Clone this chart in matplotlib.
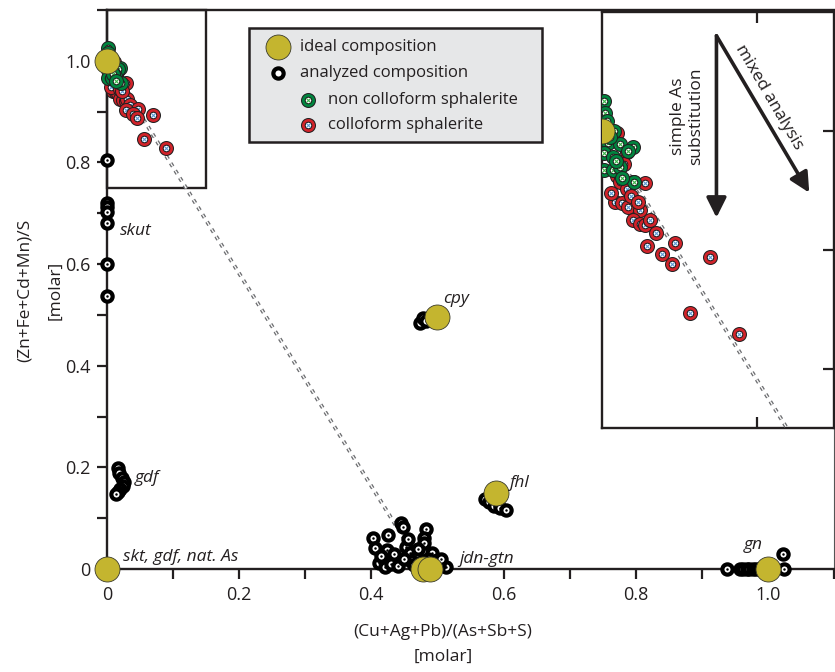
import matplotlib
matplotlib.use("Agg")
import matplotlib.pyplot as plt
from matplotlib.patches import Rectangle
from matplotlib.ticker import MultipleLocator

plt.rcParams['font.family'] = ['Open Sans', 'DejaVu Sans']
plt.rcParams['lines.scale_dashes'] = False
INK = '#231F20'
YEL = '#C4B52F'
GRN = '#00853F'
RED = '#D2232A'

# ---------------- data ----------------
ideal_x = [0.0, 0.0, 0.5, 0.589, 0.478, 0.489, 1.0]
ideal_y = [1.0, 0.0, 0.496, 0.15, 0.0, 0.0, 0.0]

skut_x = [0, 0, 0, 0, 0, 0, 0]
skut_y = [0.805, 0.72, 0.712, 0.703, 0.68, 0.60, 0.537]

gdf_x = [0.016, 0.018, 0.022, 0.025, 0.024, 0.020, 0.016, 0.014]
gdf_y = [0.198, 0.188, 0.180, 0.172, 0.163, 0.157, 0.152, 0.147]

cpy_x = [0.474, 0.478, 0.482]
cpy_y = [0.485, 0.493, 0.488]

fhl_x = [0.572, 0.578, 0.586, 0.595, 0.604]
fhl_y = [0.138, 0.132, 0.124, 0.120, 0.117]

jdn_x = [0.402, 0.405, 0.425, 0.423, 0.445, 0.448, 0.483, 0.480, 0.480, 0.412,
         0.420, 0.438, 0.453, 0.458, 0.468, 0.492, 0.500, 0.513, 0.503, 0.430,
         0.440, 0.460, 0.470, 0.475, 0.485, 0.490, 0.415, 0.435, 0.450, 0.465,
         0.478, 0.495, 0.505, 0.455, 0.470]
jdn_y = [0.061, 0.041, 0.067, 0.037, 0.090, 0.083, 0.078, 0.061, 0.052, 0.012,
         0.004, 0.018, 0.043, 0.031, 0.024, 0.031, 0.018, 0.004, 0.008, 0.010,
         0.005, 0.015, 0.010, 0.005, 0.020, 0.012, 0.025, 0.030, 0.020, 0.008,
         0.015, 0.005, 0.020, 0.060, 0.040]

gn_x = [0.938, 0.958, 0.963, 0.968, 0.972, 0.977, 0.982, 0.987, 1.025, 1.023]
gn_y = [0.0, 0.0, 0.0, 0.0, 0.0, 0.0, 0.0, 0.0, 0.0, 0.030]

red_x = [0.010, 0.016, 0.014, 0.0097, 0.0116, 0.020, 0.028, 0.016, 0.0084, 0.013,
         0.017, 0.0245, 0.020, 0.0245, 0.028, 0.031, 0.035, 0.047, 0.029, 0.0386,
         0.045, 0.0696, 0.0567, 0.0889, 0.006, 0.019, 0.023]
red_y = [0.998, 0.982, 0.972, 0.962, 0.957, 0.957, 0.956, 0.951, 0.940, 0.939,
         0.936, 0.933, 0.925, 0.922, 0.921, 0.925, 0.914, 0.906, 0.903, 0.896,
         0.888, 0.894, 0.847, 0.829, 0.948, 0.945, 0.940]

green_x = [0.001, 0.002, 0.003, 0.0075, 0.004, 0.0116, 0.020, 0.017, 0.001, 0.007,
           0.001, 0.007, 0.0116, 0.021, 0.005, 0.009, 0.013]
green_y = [1.025, 1.015, 1.008, 1.000, 0.990, 0.989, 0.986, 0.983, 0.981, 0.978,
           0.967, 0.967, 0.970, 0.957, 0.995, 0.975, 0.960]

labels = ['skut', 'gdf', 'skt, gdf, nat. As', 'cpy', 'fhl', 'jdn-gtn', 'gn']
label_x = [0.0196, 0.042, 0.024, 0.508, 0.609, 0.533, 0.964]
label_y = [0.657, 0.171, 0.0165, 0.524, 0.162, 0.0125, 0.039]

# ---------------- helpers ----------------
BMS, BMEW = 7.4, 3.0
CMS, CMEW, CMEW2 = 7.4, 3.4, 1.9
YMS = 18

def black_rings(ax, xs, ys, z=5):
    for i, (x, y) in enumerate(zip(xs, ys)):
        ax.plot([x], [y], 'o', ms=BMS, mfc='white', mec='black', mew=BMEW,
                ls='none', clip_on=False, zorder=z + i * 0.001)
        ax.plot([x], [y], '.', ms=1.6, color='black', ls='none',
                clip_on=False, zorder=z + i * 0.001 + 0.0005)

def color_rings(ax, xs, ys, col, ccol, z=6):
    for i, (x, y) in enumerate(zip(xs, ys)):
        zz = z + i * 0.001
        ax.plot([x], [y], 'o', ms=CMS, mfc='white', mec=INK, mew=CMEW,
                ls='none', clip_on=False, zorder=zz)
        ax.plot([x], [y], 'o', ms=CMS, mfc='none', mec=col, mew=CMEW2,
                ls='none', clip_on=False, zorder=zz + 0.0002)
        ax.plot([x], [y], 'x', ms=2.4, mew=0.8, color=ccol, ls='none',
                clip_on=False, zorder=zz + 0.0004)

def ideal(ax, xs, ys, z=8):
    ax.plot(xs, ys, 'o', ms=YMS, mfc=YEL, mec='#3a3a2a', mew=0.6, ls='none',
            clip_on=False, zorder=z)

def mixline(ax):
    xs = [ideal_x[0], ideal_x[4]]
    ys = [ideal_y[0], ideal_y[4]]
    ax.plot(xs, ys, color='#6D6E71', lw=2.8, ls=(0, (2.8, 3.4)), zorder=4,
            dash_capstyle='butt')
    ax.plot(xs, ys, color='white', lw=0.9, ls=(0, (2.8, 3.4)), zorder=4.1,
            dash_capstyle='butt')

# ---------------- figure ----------------
fig = plt.figure(figsize=(8.35, 6.72), dpi=100)
W, H = 835, 672
ax = fig.add_axes([107 / W, 1 - 569 / H, (834 - 107) / W, (569 - 10) / H])
ax.set_xlim(0, 1.1)
ax.set_ylim(0, 1.1)

for s in ['left', 'bottom', 'top']:
    ax.spines[s].set_linewidth(1.7)
    ax.spines[s].set_color(INK)
ax.spines['right'].set_linewidth(0.8)
ax.spines['right'].set_color('#555555')

ax.set_xticks([0, 0.2, 0.4, 0.6, 0.8, 1.0])
ax.set_xticklabels(['0', '0.2', '0.4', '0.6', '0.8', '1.0'])
ax.set_yticks([0, 0.2, 0.4, 0.6, 0.8, 1.0])
ax.set_yticklabels(['0', '0.2', '0.4', '0.6', '0.8', '1.0'])
ax.xaxis.set_minor_locator(MultipleLocator(0.1))
ax.yaxis.set_minor_locator(MultipleLocator(0.1))
ax.tick_params(which='both', direction='out', length=7, width=1.6, color=INK,
               labelsize=13, labelcolor=INK, pad=5, top=False, right=False)

mixline(ax)
black_rings(ax, skut_x, skut_y)
black_rings(ax, gdf_x, gdf_y)
black_rings(ax, cpy_x, cpy_y)
black_rings(ax, fhl_x, fhl_y)
black_rings(ax, jdn_x, jdn_y)
black_rings(ax, gn_x, gn_y)
color_rings(ax, red_x, red_y, RED, '#5B9BD5')
color_rings(ax, green_x, green_y, GRN, '#39B54A', z=6.5)
ideal(ax, ideal_x, ideal_y)

for t, x, y in zip(labels, label_x, label_y):
    ax.text(x, y, t, style='italic', fontsize=12.5, color=INK, ha='left',
            va='baseline', zorder=10)

# zoom box
ax.add_patch(Rectangle((0, 0.75), 0.15, 0.35, fill=False, ec=INK, lw=1.7,
                       zorder=3, clip_on=False))

# axis labels
fig.text(25 / W, 1 - 290 / H, '(Zn+Fe+Cd+Mn)/S', rotation=90, ha='center',
         va='center', fontsize=12.5, color=INK)
fig.text(55 / W, 1 - 290 / H, '[molar]', rotation=90, ha='center',
         va='center', fontsize=12.5, color=INK)
fig.text(443 / W, 1 - 632 / H, '(Cu+Ag+Pb)/(As+Sb+S)', ha='center',
         va='center', fontsize=12.5, color=INK)
fig.text(443 / W, 1 - 657 / H, '[molar]', ha='center', va='center',
         fontsize=12.5, color=INK)

# legend (manual, axes fraction)
lg = ax.transAxes
ax.add_patch(Rectangle((0.196, 0.764), 0.403, 0.204, transform=lg,
                       fc='#E6E7E8', ec=INK, lw=1.8, zorder=11))
ax.plot([0.235], [0.934], 'o', ms=YMS, mfc=YEL, mec='#3a3a2a', mew=0.6,
        transform=lg, zorder=12)
ax.plot([0.235], [0.887], 'o', ms=BMS, mfc='white', mec='black', mew=BMEW,
        transform=lg, zorder=12)
for yy, col, cc in [(0.839, GRN, '#39B54A'), (0.794, RED, '#5B9BD5')]:
    ax.plot([0.276], [yy], 'o', ms=CMS, mfc='white', mec=INK, mew=CMEW,
            transform=lg, zorder=12)
    ax.plot([0.276], [yy], 'o', ms=CMS, mfc='none', mec=col, mew=CMEW2,
            transform=lg, zorder=12.1)
    ax.plot([0.276], [yy], 'x', ms=2.4, mew=0.8, color=cc,
            transform=lg, zorder=12.2)
for t, x, y in [('ideal composition', 0.265, 0.934),
                ('analyzed composition', 0.265, 0.887),
                ('non colloform sphalerite', 0.304, 0.839),
                ('colloform sphalerite', 0.304, 0.794)]:
    ax.text(x, y, t, transform=lg, fontsize=12, color=INK, ha='left',
            va='center', zorder=13)

# ---------------- inset ----------------
ax2 = fig.add_axes([602 / W, 1 - 428 / H, (834 - 602) / W, (428 - 12) / H])
ax2.set_zorder(20)
ax2.set_xlim(0, 0.15)
ax2.set_ylim(0.75, 1.1)
for s in ax2.spines.values():
    s.set_linewidth(1.7)
    s.set_color(INK)
ax2.set_xticks([0.1])
ax2.set_yticks([0.8, 0.9, 1.0])
ax2.tick_params(direction='in', length=8, width=1.6, color=INK,
                top=True, bottom=True, left=False, right=True,
                labelleft=False, labelbottom=False)
mixline(ax2)
color_rings(ax2, red_x, red_y, RED, '#5B9BD5')
color_rings(ax2, green_x, green_y, GRN, '#39B54A', z=6.5)
ideal(ax2, ideal_x[:1], ideal_y[:1])
for a in ax2.lines:
    a.set_clip_on(True)

arr = dict(arrowstyle='-|>,head_length=0.6,head_width=0.3', lw=2.6,
           color=INK, mutation_scale=20, shrinkA=0, shrinkB=0)
ax2.annotate('', xy=(0.074, 0.927), xytext=(0.074, 1.08), arrowprops=arr,
             zorder=10)
ax2.annotate('', xy=(0.134, 0.948), xytext=(0.074, 1.08), arrowprops=arr,
             zorder=10)
ax2.text(0.055, 1.0126, 'simple As\nsubstitution', rotation=90, ha='center',
         va='center', fontsize=12.5, color=INK, linespacing=1.25)
ax2.text(0.108, 1.028, 'mixed analysis', rotation=-59.6, ha='center',
         va='center', fontsize=12.5, color=INK, rotation_mode='anchor')

fig.savefig('out.png', dpi=100)
